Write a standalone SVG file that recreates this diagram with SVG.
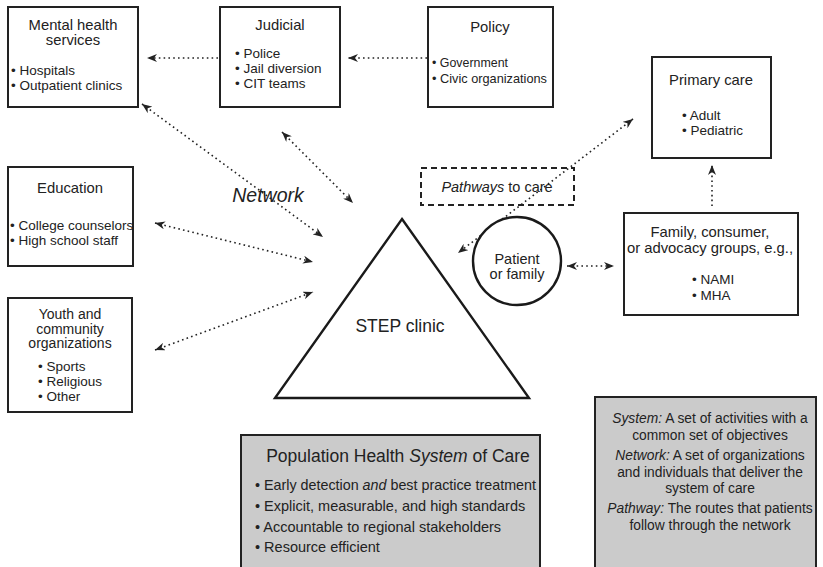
<svg xmlns="http://www.w3.org/2000/svg" width="823" height="567" viewBox="0 0 823 567">
  <style>
    .box { fill: #ffffff; stroke: #222222; stroke-width: 2; }
    .shade { fill: #cbcbcb; stroke: #222222; stroke-width: 2; }
    .dash { fill: none; stroke: #222222; stroke-width: 2; stroke-dasharray: 6 4; }
    .tri, .circ { fill: #ffffff; stroke: #1a1a1a; stroke-width: 2.4; }
    .t { font-family: "Liberation Sans", Arial, sans-serif; fill: #222222; }
    .h { font-size: 14.8px; text-anchor: middle; }
    .b { font-size: 13.5px; }
    .c { text-anchor: middle; }
    .i { font-style: italic; }
    .link { fill: none; stroke: #222222; stroke-width: 1.6; stroke-dasharray: 1.6 3.2; }
  </style>
  <defs>
    <marker id="arrow" viewBox="0 0 10 8" refX="10" refY="4" markerWidth="10" markerHeight="8" markerUnits="userSpaceOnUse" orient="auto-start-reverse">
      <path d="M0,0 L10,4 L0,8 L3,4 z" fill="#222222"/>
    </marker>
  </defs>

  <!-- connectors -->
  <g id="connectors">
    <line class="link" x1="218" y1="58" x2="147" y2="58" marker-end="url(#arrow)"/>
    <line class="link" x1="427" y1="58" x2="348" y2="58" marker-end="url(#arrow)"/>
    <line class="link" x1="142" y1="104" x2="323" y2="237" marker-start="url(#arrow)" marker-end="url(#arrow)"/>
    <line class="link" x1="282" y1="132" x2="353" y2="203" marker-start="url(#arrow)" marker-end="url(#arrow)"/>
    <line class="link" x1="155" y1="223" x2="313" y2="262" marker-start="url(#arrow)" marker-end="url(#arrow)"/>
    <line class="link" x1="155" y1="350" x2="313" y2="292" marker-start="url(#arrow)" marker-end="url(#arrow)"/>
    <line class="link" x1="633" y1="119" x2="458" y2="253" marker-start="url(#arrow)" marker-end="url(#arrow)"/>
    <line class="link" x1="567" y1="266" x2="614" y2="266" marker-start="url(#arrow)" marker-end="url(#arrow)"/>
    <line class="link" x1="712" y1="206" x2="712" y2="165" marker-end="url(#arrow)"/>
  </g>

  <g id="mental-health">
    <rect class="box" x="8" y="7" width="130" height="100"/>
    <text class="t h" x="73" y="30">Mental health</text>
    <text class="t h" x="73" y="45">services</text>
    <text class="t b" x="11" y="75">• Hospitals</text>
    <text class="t b" x="11" y="90">• Outpatient clinics</text>
  </g>

  <g id="judicial">
    <rect class="box" x="220" y="7" width="120" height="100"/>
    <text class="t h" x="280" y="30">Judicial</text>
    <text class="t b" x="235" y="58">• Police</text>
    <text class="t b" x="235" y="73">• Jail diversion</text>
    <text class="t b" x="235" y="88">• CIT teams</text>
  </g>

  <g id="policy">
    <rect class="box" x="428" y="7" width="125" height="100"/>
    <text class="t h" x="490" y="32">Policy</text>
    <text class="t b" x="432" y="67" textLength="76" lengthAdjust="spacingAndGlyphs">• Government</text>
    <text class="t b" x="432" y="83" textLength="115" lengthAdjust="spacingAndGlyphs">• Civic organizations</text>
  </g>

  <g id="primary-care">
    <rect class="box" x="652" y="57" width="119" height="101"/>
    <text class="t h" x="711" y="85">Primary care</text>
    <text class="t b" x="682" y="120">• Adult</text>
    <text class="t b" x="682" y="135">• Pediatric</text>
  </g>

  <g id="education">
    <rect class="box" x="8" y="167" width="125" height="99"/>
    <text class="t h" x="70" y="193">Education</text>
    <text class="t b" x="10" y="230">• College counselors</text>
    <text class="t b" x="10" y="245">• High school staff</text>
  </g>

  <g id="youth">
    <rect class="box" x="8" y="298" width="124" height="114"/>
    <text class="t c" x="70" y="319" font-size="14">Youth and</text>
    <text class="t c" x="70" y="333.5" font-size="14">community</text>
    <text class="t c" x="70" y="348" font-size="14">organizations</text>
    <text class="t b" x="38" y="371">• Sports</text>
    <text class="t b" x="38" y="386">• Religious</text>
    <text class="t b" x="38" y="401">• Other</text>
  </g>

  <g id="step-clinic">
    <polygon class="tri" points="402,219 529,398 275,398"/>
    <text class="t c" x="400" y="332" font-size="17.5">STEP clinic</text>
  </g>

  <g id="pathways">
    <rect class="dash" x="421" y="168" width="153" height="37"/>
    <text class="t c" x="497" y="192" font-size="14.5"><tspan class="i">Pathways</tspan> to care</text>
  </g>

  <g id="patient">
    <circle class="circ" cx="517" cy="261" r="44"/>
    <text class="t c" x="517" y="264" font-size="14.5">Patient</text>
    <text class="t c" x="517" y="279" font-size="14.5">or family</text>
  </g>

  <g id="family-groups">
    <rect class="box" x="624" y="213" width="174" height="102"/>
    <text class="t h" x="710" y="237">Family, consumer,</text>
    <text class="t h" x="710" y="253">or advocacy groups, e.g.,</text>
    <text class="t b" x="692" y="284">• NAMI</text>
    <text class="t b" x="692" y="300">• MHA</text>
  </g>

  <text class="t i c" x="268" y="202" font-size="19.5">Network</text>

  <g id="system-of-care">
    <rect class="shade" x="241" y="435" width="299" height="140"/>
    <text class="t c" x="398" y="462" font-size="17.5">Population Health <tspan class="i">System</tspan> of Care</text>
    <text class="t" x="255" y="490" font-size="14.5" textLength="281" lengthAdjust="spacingAndGlyphs">• Early detection <tspan class="i">and</tspan> best practice treatment</text>
    <text class="t" x="255" y="511" font-size="14.5">• Explicit, measurable, and high standards</text>
    <text class="t" x="255" y="532" font-size="14.5">• Accountable to regional stakeholders</text>
    <text class="t" x="255" y="552" font-size="14.5">• Resource efficient</text>
  </g>

  <g id="definitions">
    <rect class="shade" x="595" y="397" width="221" height="180"/>
    <g class="t c" font-size="13.8">
      <text x="710" y="423"><tspan class="i">System:</tspan> A set of activities with a</text>
      <text x="710" y="440">common set of objectives</text>
      <text x="710" y="460"><tspan class="i">Network:</tspan> A set of organizations</text>
      <text x="710" y="477">and individuals that deliver the</text>
      <text x="710" y="493">system of care</text>
      <text x="710" y="513"><tspan class="i">Pathway:</tspan> The routes that patients</text>
      <text x="710" y="530">follow through the network</text>
    </g>
  </g>
</svg>
